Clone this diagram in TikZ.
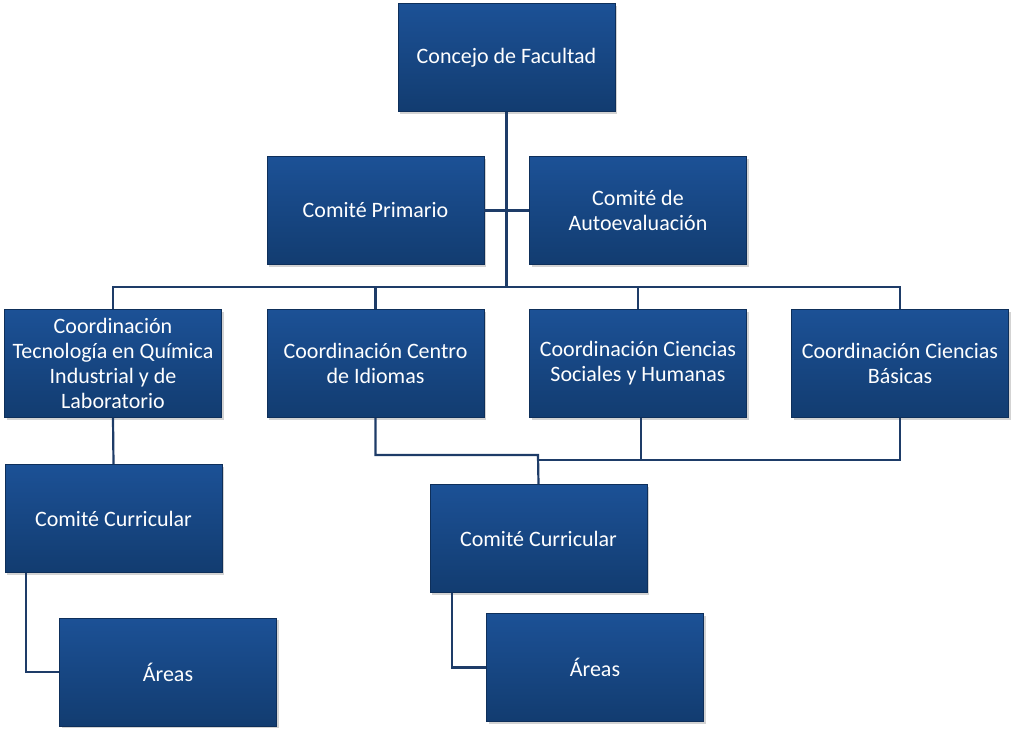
\documentclass[tikz,border=0pt]{standalone}
\usepackage{fontspec}
\setmainfont{Carlito}
\usetikzlibrary{shadows}
\definecolor{boxtop}{HTML}{1C5196}
\definecolor{boxbot}{HTML}{123C70}
\definecolor{boxline}{HTML}{0E2F5A}
\definecolor{conn}{HTML}{1E3C68}
\tikzset{
  orgbox/.style={rectangle, minimum width=217pt, minimum height=108pt, align=center,
    text=white, font=\fontsize{22pt}{25pt}\selectfont, inner sep=2pt,
    top color=boxtop, bottom color=boxbot, draw=boxline, line width=0.6pt,
    drop shadow={opacity=0.35, shadow xshift=2pt, shadow yshift=-2pt}},
  link/.style={draw=conn, line width=2.2pt}
}
\begin{document}
\begin{tikzpicture}[x=1pt,y=-1pt]
\useasboundingbox (0,0) rectangle (1013,729);
\node[orgbox] (cf) at (506.5,57.5) {Concejo de Facultad};
\node[orgbox] (cp) at (375.5,210.5) {Comité Primario};
\node[orgbox] (ca) at (638,210.5) {Comité de\\Autoevaluación};
\node[orgbox] (c1) at (113,363.5) {Coordinación\\Tecnología en Química\\Industrial y de\\Laboratorio};
\node[orgbox] (c2) at (375.5,363.5) {Coordinación Centro\\de Idiomas};
\node[orgbox] (c3) at (638,363.5) {Coordinación Ciencias\\Sociales y Humanas};
\node[orgbox] (c4) at (900,363.5) {Coordinación Ciencias\\Básicas};
\node[orgbox] (cc1) at (113.5,518.5) {Comité Curricular};
\node[orgbox] (cc2) at (538.5,538.5) {Comité Curricular};
\node[orgbox] (a1) at (168,672) {Áreas};
\node[orgbox] (a2) at (595,667.5) {Áreas};
\coordinate (bus) at (506,287);
\coordinate (j1) at (538,455);
\coordinate (j2) at (538,460);
\draw[link] (cf.south) -- (cf.south |- bus);
\draw[link] (cp.east) -- (ca.west);
\draw[link] (c1.north) -- (c1.north |- bus) -- (c4.north |- bus) -- (c4.north);
\draw[link] (c2.north) -- (c2.north |- bus);
\draw[link] (c3.north) -- (c3.north |- bus);
\draw[link] (c1.south) -- (cc1.north);
\draw[link] ([xshift=21pt]cc1.south west) |- (a1.west);
\draw[link] ([xshift=22pt]cc2.south west) |- (a2.west);
\draw[link] (c2.south) |- (j1) -- (cc2.north);
\draw[link] (c4.south) |- (j2);
\draw[link] ([xshift=3pt]c3.south) -- ([xshift=3pt]c3.south |- j2);
\end{tikzpicture}
\end{document}
